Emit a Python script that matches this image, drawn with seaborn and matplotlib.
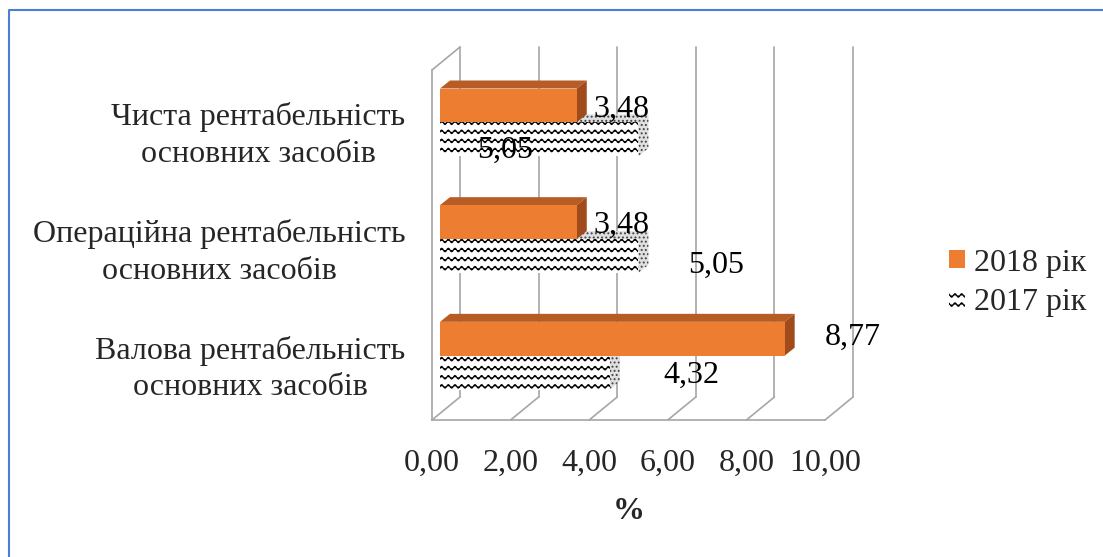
import numpy as np
import pandas as pd
import seaborn as sns
import matplotlib
matplotlib.use("Agg")
import matplotlib.pyplot as plt
import matplotlib.hatch as mhatch
from matplotlib.path import Path
from matplotlib.lines import Line2D
from matplotlib.patches import Polygon, Patch
from matplotlib.transforms import offset_copy

# ---------------- data ----------------
categories = ["Чиста рентабельність\nосновних засобів",
              "Операційна рентабельність\nосновних засобів",
              "Валова рентабельність\nосновних засобів"]
years = ["2018 рік", "2017 рік"]
values_2018 = [3.48, 3.48, 8.77]
values_2017 = [5.05, 5.05, 4.32]
x_ticks = [0, 2, 4, 6, 8, 10]
x_tick_labels = ["0,00", "2,00", "4,00", "6,00", "8,00", "10,00"]
x_label = "%"

# label placement (pixel offsets from bar end / bar centre)
label_offsets_2018 = [(45, -4), (45, -3), (68, 1)]
label_offsets_2017 = [(-133, -11), (78, -9), (82, -3)]

# ---------------- wave hatch ----------------
class WaveHatch(mhatch.HatchPatternBase):
    rows_per_char = 11
    waves = 15
    pts_per_wave = 8

    def __init__(self, hatch, density):
        self.num_rows = hatch.count('-') * self.rows_per_char
        self.num_pts = self.waves * self.pts_per_wave + 1
        self.num_vertices = self.num_rows * self.num_pts

    def set_vertices_and_codes(self, vertices, codes):
        if self.num_rows == 0:
            return
        t = np.linspace(0, 1, self.num_pts)
        wave = 0.017 * np.sin(2 * np.pi * self.waves * t)
        step = 1.0 / self.num_rows
        for i in range(self.num_rows):
            sl = slice(i * self.num_pts, (i + 1) * self.num_pts)
            vertices[sl, 0] = t
            vertices[sl, 1] = (i + 0.5) * step + wave
            codes[sl] = Path.LINETO
            codes[i * self.num_pts] = Path.MOVETO

mhatch._hatch_types = [WaveHatch if t is mhatch.HorizontalHatch else t
                       for t in mhatch._hatch_types]

# ---------------- style ----------------
sns.set_style("white")
plt.rcParams['font.family'] = ['Liberation Serif', 'DejaVu Serif']
plt.rcParams['hatch.linewidth'] = 0.9
FS = 23
GRAY = '#A6A6A6'
ORANGE = '#ED7D31'
ORANGE_TOP = '#B85C26'
ORANGE_SIDE = '#A04B1C'

W, H = 1103, 557
fig = plt.figure(figsize=(W / 100, H / 100), dpi=100)
fig.patch.set_facecolor('white')
ax = fig.add_axes([432 / W, (H - 420) / H, (825 - 432) / W, 350 / H])
ax.set_facecolor('none')

df = pd.DataFrame({
    'category': categories * 2,
    'value': values_2018 + values_2017,
    'year': [years[0]] * 3 + [years[1]] * 3,
})
sns.barplot(data=df, x='value', y='category', hue='year', order=categories,
            hue_order=years, palette={years[0]: ORANGE, years[1]: 'white'},
            width=0.58, saturation=1, orient='h', ax=ax, legend=False)

ax.set_xlim(0, 10)
ax.set_ylim(2.5, -0.5)

# 3D geometry (pixels)
BX, BY = 8, 6          # bar front-face offset
DX, DY = 10, 8         # bar depth
WX, WY = 28, 23        # wall depth
to_fig = fig.transFigure.inverted()
tr_bar = offset_copy(ax.transData, fig=fig, x=BX, y=BY, units='dots')

def disp(x, y, ox=0, oy=0):
    p = ax.transData.transform((x, y))
    return (p[0] + ox, p[1] + oy)

def figpts(pts):
    return to_fig.transform(np.array(pts))

def add_line(p0, p1, z=0.5):
    pts = figpts([p0, p1])
    ax.add_line(Line2D(pts[:, 0], pts[:, 1], transform=fig.transFigure,
                       color=GRAY, lw=1.2, clip_on=False, zorder=z))

# back wall gridlines and floor diagonals
for t in x_ticks:
    add_line(disp(t, 2.5, WX, WY), disp(t, -0.5, WX, WY))
    add_line(disp(t, 2.5), disp(t, 2.5, WX, WY))
add_line(disp(0, -0.5), disp(0, -0.5, WX, WY))

# bars with 3D faces
for ci, cont in enumerate(ax.containers):
    z = 3 if ci == 0 else 2
    for patch in cont.patches:
        patch.set_transform(tr_bar)
        patch.set_zorder(z)
        patch.set_linewidth(0)
        if ci == 1:
            patch.set_hatch('-')
            patch.set_edgecolor('black')
        x0 = patch.get_x()
        x1 = x0 + patch.get_width()
        ya, yb = patch.get_y(), patch.get_y() + patch.get_height()
        pa, pb = disp(x0, ya, BX, BY), disp(x0, yb, BX, BY)
        yt, ybm = max(pa[1], pb[1]), min(pa[1], pb[1])
        X0 = pa[0]
        X1 = disp(x1, ya, BX, BY)[0]
        top = [(X0, yt), (X0 + DX, yt + DY), (X1 + DX, yt + DY), (X1, yt)]
        side = [(X1, ybm), (X1, yt), (X1 + DX, yt + DY), (X1 + DX, ybm + DY)]
        if ci == 0:
            kw_t = dict(facecolor=ORANGE_TOP, edgecolor='none')
            kw_s = dict(facecolor=ORANGE_SIDE, edgecolor='none')
        else:
            kw_t = dict(facecolor='#E0E0E0', edgecolor='#444444', hatch='....', lw=0)
            kw_s = dict(facecolor='#E0E0E0', edgecolor='#444444', hatch='....', lw=0)
        for poly, kw in ((top, kw_t), (side, kw_s)):
            ax.add_patch(Polygon(figpts(poly), closed=True, transform=fig.transFigure,
                                 clip_on=False, zorder=z - 0.1, **kw))

# data labels
for cont, vals, offs in ((ax.containers[0], values_2018, label_offsets_2018),
                         (ax.containers[1], values_2017, label_offsets_2017)):
    for patch, v, (ox, oy) in zip(cont.patches, vals, offs):
        yc = patch.get_y() + patch.get_height() / 2
        ax.annotate(f"{v:.2f}".replace('.', ','), xy=(patch.get_width(), yc),
                    xycoords=tr_bar, xytext=(ox, oy), textcoords='offset pixels',
                    ha='center', va='center', fontsize=FS, color='black', zorder=5,
                    annotation_clip=False)

# axes styling
for s in ('top', 'right'):
    ax.spines[s].set_visible(False)
for s in ('left', 'bottom'):
    ax.spines[s].set_color(GRAY)
    ax.spines[s].set_linewidth(1.2)
    ax.spines[s].set_zorder(0.5)

ax.set_xticks(x_ticks)
ax.set_xticklabels(x_tick_labels, fontsize=FS)
ax.tick_params(axis='x', length=5.8, width=1.2, color=GRAY, pad=15)
ax.set_yticks(range(len(categories)))
ax.set_yticklabels(categories, fontsize=FS)
for lab in ax.get_yticklabels():
    lab.set_multialignment('center')
    lab.set_linespacing(1.35)
ax.tick_params(axis='y', which='major', length=0, pad=19)
ax.set_yticks([-0.5, 0.5, 1.5, 2.5], minor=True)
ax.tick_params(axis='y', which='minor', length=5.8, width=1.2, color=GRAY)
ax.set_xlabel(x_label, fontsize=FS, fontweight='bold', labelpad=14)
ax.set_ylabel('')
ax.grid(False)

# legend
handles = [Patch(facecolor=ORANGE, edgecolor='none'),
           Patch(facecolor='white', edgecolor='black', hatch='-', lw=0)]
fig.legend(handles=handles, labels=years, loc='center left',
           bbox_to_anchor=(936 / W, (H - 283) / H), frameon=False, fontsize=FS,
           handlelength=0.5, handleheight=0.5, handletextpad=0.3,
           labelspacing=0.33, borderaxespad=0)

# outer border (top and left edges visible)
bx, by = 9 / W, (H - 10) / H
fig.add_artist(Line2D([bx, bx, 1.0], [0.0, by, by], transform=fig.transFigure,
                      color='#4A7FD6', lw=1.5))

fig.savefig('out.png', dpi=100, facecolor='white')
